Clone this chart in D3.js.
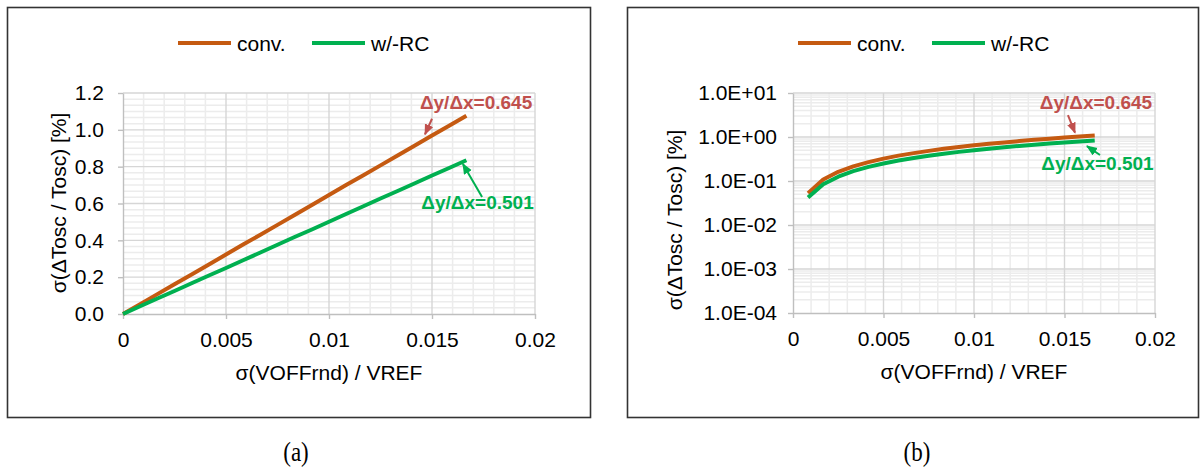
<!DOCTYPE html>
<html>
<head>
<meta charset="utf-8">
<script src="https://cdn.jsdelivr.net/npm/d3@7/dist/d3.min.js"></script>
<style>
  body { margin: 0; background: #fff; }
  svg text { font-family: "Liberation Sans", Arial, sans-serif; }
</style>
</head>
<body>
<svg id="chart" width="1201" height="470"></svg>
<script>
// sigma(VOFFrnd)/VREF sweep
const xVals = [0, 0.00083, 0.00167, 0.0025, 0.00333, 0.00417, 0.005, 0.00583, 0.00667, 0.0075, 0.00833,
    0.00917, 0.01, 0.01083, 0.01167, 0.0125, 0.01333, 0.01417, 0.015, 0.01583, 0.01667];
// sigma(dTosc/Tosc) [%]
const convVals = [0, 0.053, 0.108, 0.162, 0.215, 0.269, 0.323, 0.377, 0.43, 0.484, 0.538,
    0.592, 0.646, 0.7, 0.753, 0.807, 0.861, 0.915, 0.969, 1.022, 1.076];
const rcVals = [0, 0.042, 0.084, 0.125, 0.167, 0.209, 0.25, 0.292, 0.334, 0.376, 0.418,
    0.459, 0.501, 0.543, 0.585, 0.627, 0.668, 0.71, 0.752, 0.793, 0.835];

const seriesNames = ["conv.", "w/-RC"];
const slopeLabels = ["Δy/Δx=0.645", "Δy/Δx=0.501"];
const xTicks = [0, 0.005, 0.01, 0.015, 0.02];
const xTickLabels = ["0", "0.005", "0.01", "0.015", "0.02"];
const yTicksLin = [0, 0.2, 0.4, 0.6, 0.8, 1.0, 1.2];
const yTickLabelsLin = ["0.0", "0.2", "0.4", "0.6", "0.8", "1.0", "1.2"];
const yTicksLog = [1e-4, 1e-3, 1e-2, 1e-1, 1, 10];
const yTickLabelsLog = ["1.0E-04", "1.0E-03", "1.0E-02", "1.0E-01", "1.0E+00", "1.0E+01"];
const xTitle = "σ(VOFFrnd) / VREF";
const yTitle = "σ(ΔTosc / Tosc) [%]";
const captions = ["(a)", "(b)"];

const colors = { conv: "#C55A11", rc: "#00B050", red: "#C0504D" };
const fontSize = 21;

const svg = d3.select("#chart");

const defs = svg.append("defs");
[["red", colors.red], ["green", colors.rc]].forEach(([id, c]) => {
    defs.append("marker")
        .attr("id", "arrow-" + id)
        .attr("markerUnits", "userSpaceOnUse")
        .attr("markerWidth", 11).attr("markerHeight", 10)
        .attr("refX", 10).attr("refY", 4.5)
        .attr("orient", "auto")
        .append("path")
        .attr("d", "M0,0 L11,4.5 L0,9 Z")
        .attr("fill", c);
});

const series = [
    { name: seriesNames[0], vals: convVals, color: colors.conv },
    { name: seriesNames[1], vals: rcVals, color: colors.rc }
];

function drawPanel(cfg) {
    const g = svg.append("g");

    // outer frame
    g.append("rect")
        .attr("x", cfg.box[0]).attr("y", cfg.box[1])
        .attr("width", cfg.box[2]).attr("height", cfg.box[3])
        .attr("fill", "none").attr("stroke", "#333").attr("stroke-width", 1.6);

    const x = d3.scaleLinear().domain([0, 0.02]).range([cfg.left, cfg.right]);
    const y = cfg.log
        ? d3.scaleLog().domain([1e-4, 10]).range([cfg.bottom, cfg.top])
        : d3.scaleLinear().domain([0, 1.2]).range([cfg.bottom, cfg.top]);

    // minor grid
    const xMinor = d3.range(0, 0.0201, 0.001).filter(v => Math.abs(v / 0.005 - Math.round(v / 0.005)) > 1e-6);
    let yMinor;
    if (cfg.log) {
        yMinor = [];
        [-4, -3, -2, -1, 0].forEach(d => {
            for (let k = 2; k <= 9; k++) yMinor.push(k * Math.pow(10, d));
        });
    } else {
        yMinor = d3.range(0, 1.2, 0.2 / 6).filter((v, i) => i % 6 !== 0);
    }
    const grid = g.append("g");
    grid.selectAll(".xm").data(xMinor).join("line")
        .attr("x1", d => x(d)).attr("x2", d => x(d))
        .attr("y1", cfg.top).attr("y2", cfg.bottom)
        .attr("stroke", "#ececec").attr("stroke-width", 1.5);
    grid.selectAll(".ym").data(yMinor).join("line")
        .attr("x1", cfg.left).attr("x2", cfg.right)
        .attr("y1", d => y(d)).attr("y2", d => y(d))
        .attr("stroke", "#ececec").attr("stroke-width", 1.5);

    // major grid
    const yTicks = cfg.log ? yTicksLog : yTicksLin;
    const yLabels = cfg.log ? yTickLabelsLog : yTickLabelsLin;
    grid.selectAll(".xM").data(xTicks.slice(1)).join("line")
        .attr("x1", d => x(d)).attr("x2", d => x(d))
        .attr("y1", cfg.top).attr("y2", cfg.bottom)
        .attr("stroke", "#d6d6d6").attr("stroke-width", 1.4);
    grid.selectAll(".yM").data(yTicks.slice(1)).join("line")
        .attr("x1", cfg.left).attr("x2", cfg.right)
        .attr("y1", d => y(d)).attr("y2", d => y(d))
        .attr("stroke", "#d6d6d6").attr("stroke-width", 1.4);

    // axes
    const xAxis = d3.axisBottom(x).tickValues(xTicks)
        .tickFormat((d, i) => xTickLabels[i]).tickSize(5).tickPadding(8).tickSizeOuter(0);
    const yAxis = d3.axisLeft(y).tickValues(yTicks)
        .tickFormat((d, i) => yLabels[i]).tickSize(5).tickPadding(cfg.log ? 11 : 14).tickSizeOuter(0);

    const xg = g.append("g").attr("transform", `translate(0,${cfg.bottom})`).call(xAxis);
    const yg = g.append("g").attr("transform", `translate(${cfg.left},0)`).call(yAxis);
    [xg, yg].forEach(a => {
        a.select(".domain").attr("stroke", "#bfbfbf").attr("stroke-width", 1.4);
        a.selectAll(".tick line").attr("stroke", "#bfbfbf").attr("stroke-width", 1.4);
        a.selectAll(".tick text").attr("fill", "#000")
            .style("font-size", fontSize + "px")
            .style("font-family", '"Liberation Sans", Arial, sans-serif');
    });
    xg.selectAll(".tick text").attr("dy", "0.95em");

    // axis titles
    g.append("text")
        .attr("x", (cfg.left + cfg.right) / 2).attr("y", cfg.bottom + 66)
        .attr("text-anchor", "middle").attr("font-size", fontSize)
        .text(xTitle);
    g.append("text")
        .attr("transform", `translate(${cfg.yTitleX},${cfg.yTitleY}) rotate(-90)`)
        .attr("text-anchor", "middle").attr("dominant-baseline", "central")
        .attr("font-size", fontSize)
        .text(yTitle);

    // data lines
    const line = d3.line()
        .x(d => x(d[0]))
        .y(d => y(d[1]));
    series.forEach(s => {
        let pts = xVals.map((v, i) => [v, s.vals[i]]);
        if (cfg.log) pts = pts.filter(p => p[1] > 0);
        g.append("path")
            .datum(pts)
            .attr("d", line)
            .attr("fill", "none")
            .attr("stroke", s.color)
            .attr("stroke-width", 4)
            .attr("stroke-linejoin", "round");
    });

    // legend
    const lg = g.append("g");
    series.forEach((s, i) => {
        const lx = cfg.legendX + i * 134;
        lg.append("line")
            .attr("x1", lx).attr("x2", lx + 53)
            .attr("y1", cfg.legendY).attr("y2", cfg.legendY)
            .attr("stroke", s.color).attr("stroke-width", 4.2);
        lg.append("text")
            .attr("x", lx + 59).attr("y", cfg.legendY)
            .attr("dominant-baseline", "central")
            .attr("font-size", fontSize)
            .text(s.name);
    });

    // slope annotations
    cfg.notes.forEach(n => {
        g.append("line")
            .attr("x1", x(n.from[0])).attr("y1", y(n.from[1]))
            .attr("x2", x(n.to[0])).attr("y2", y(n.to[1]))
            .attr("stroke", n.color).attr("stroke-width", 2)
            .attr("marker-end", `url(#arrow-${n.marker})`);
        g.append("text")
            .attr("x", x(n.text[0])).attr("y", y(n.text[1]))
            .attr("text-anchor", "middle").attr("dominant-baseline", "central")
            .attr("font-size", 19).attr("font-weight", "bold")
            .attr("fill", n.color)
            .text(n.label);
    });

    // caption
    svg.append("text")
        .attr("transform", `translate(${cfg.captionX},461) scale(1,1.18)`)
        .attr("text-anchor", "middle")
        .style("font-family", '"Liberation Serif", "Times New Roman", serif')
        .attr("font-size", 23)
        .text(cfg.caption);
}

drawPanel({
    box: [7.5, 7.5, 583, 410],
    left: 123, right: 535, top: 93, bottom: 314,
    log: false,
    legendX: 178, legendY: 43,
    yTitleX: 58, yTitleY: 203,
    captionX: 296, caption: captions[0],
    notes: [
        { label: slopeLabels[0], color: colors.red, marker: "red",
          text: [0.01714, 1.146], from: [0.0150, 1.06], to: [0.01466, 0.975] },
        { label: slopeLabels[1], color: colors.rc, marker: "green",
          text: [0.01721, 0.608], from: [0.01743, 0.635], to: [0.0165, 0.815] }
    ]
});

drawPanel({
    box: [627.5, 7.5, 571, 410],
    left: 793, right: 1155, top: 93, bottom: 313,
    log: true,
    legendX: 798, legendY: 43,
    yTitleX: 674, yTitleY: 220,
    captionX: 917, caption: captions[1],
    notes: [
        { label: slopeLabels[0], color: colors.red, marker: "red",
          text: [0.01674, 5.93], from: [0.01519, 3.16], to: [0.01558, 1.25] },
        { label: slopeLabels[1], color: colors.rc, marker: "green",
          text: [0.01682, 0.256], from: [0.01696, 0.39], to: [0.01624, 0.62] }
    ]
});
</script>
</body>
</html>
